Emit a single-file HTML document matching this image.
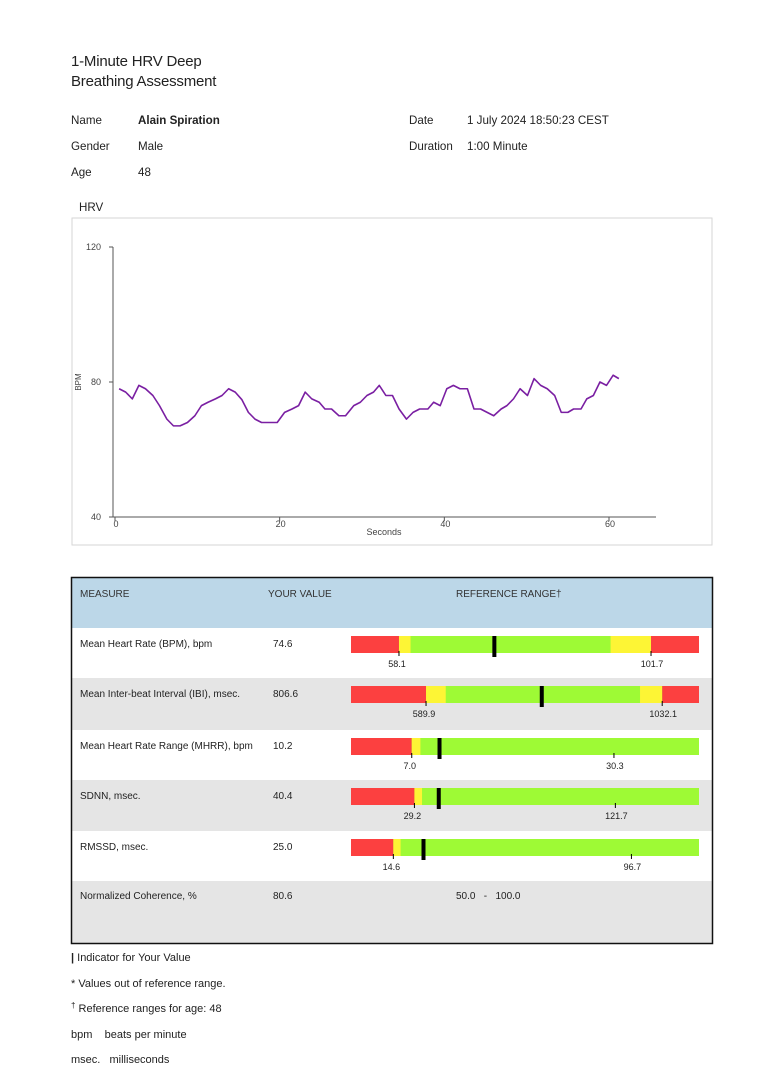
<!DOCTYPE html>
<html><head><meta charset="utf-8">
<style>
body{margin:0;width:768px;height:1087px;background:#fff;font-family:"Liberation Sans",sans-serif;color:#222;position:relative;overflow:hidden}
.t{position:absolute;white-space:nowrap}
.s12{font-size:11.6px}
.s11{font-size:11px}
</style></head><body>
<div class="t" style="left:71px;top:52px;font-size:15px;line-height:20px;letter-spacing:-0.2px">1-Minute HRV Deep<br>Breathing Assessment</div>
<div class="t s12" style="left:71px;top:114px">Name</div>
<div class="t s12" style="left:138px;top:114px;font-weight:bold">Alain Spiration</div>
<div class="t s12" style="left:71px;top:140px">Gender</div>
<div class="t s12" style="left:138px;top:140px">Male</div>
<div class="t s12" style="left:71px;top:166px">Age</div>
<div class="t s12" style="left:138px;top:166px">48</div>
<div class="t s12" style="left:409px;top:114px">Date</div>
<div class="t s12" style="left:467px;top:114px">1 July 2024 18:50:23 CEST</div>
<div class="t s12" style="left:409px;top:140px">Duration</div>
<div class="t s12" style="left:467px;top:140px">1:00 Minute</div>
<div class="t s12" style="left:79px;top:201px">HRV</div>

<svg id="chart" style="position:absolute;left:0;top:0" width="768" height="560" font-family="Liberation Sans, sans-serif">
<rect x="72" y="218" width="640" height="327" fill="#fff" stroke="#d6d6d6"/>
</svg>

<svg id="tbl" style="position:absolute;left:0;top:560px" width="768" height="400" font-family="Liberation Sans, sans-serif"></svg>

<div class="t s11" style="left:71px;top:952px"><b>|</b> Indicator for Your Value</div>
<div class="t s11" style="left:71px;top:978px">* Values out of reference range.</div>
<div class="t s11" style="left:71px;top:1003px"><span style="font-size:8px;position:relative;top:-4px">†</span> Reference ranges for age: 48</div>
<div class="t s11" style="left:71px;top:1029px">bpm&nbsp;&nbsp;&nbsp;&nbsp;beats per minute</div>
<div class="t s11" style="left:71px;top:1054px">msec.&nbsp;&nbsp;&nbsp;milliseconds</div>

<script>
const times=[0.5,1.3,2.1,2.9,3.7,4.6,5.4,6.3,7.1,7.9,8.8,9.7,10.5,11.3,12.2,13,13.8,14.6,15.4,16.2,17,17.8,18.8,19.7,20.6,21.5,22.3,23.1,23.9,24.8,25.5,26.3,27.2,28,29,29.8,30.6,31.4,32.1,32.9,33.7,34.5,35.4,36.2,37,38,38.7,39.5,40.3,41.1,41.9,42.8,43.6,44.4,45.2,46,46.9,47.6,48.4,49.2,50.1,50.9,51.7,52.5,53.4,54.2,55,55.7,56.6,57.3,58.1,58.9,59.7,60.5,61.2];
const bpm=[78,77,75,79,78,76,73,69,67,67,68,70,73,74,75,76,78,77,74.8,71,69,68,68,68,71,72,73,77,75,74,72,72,70,70,73,74,76,77,79,76,76,72,69,71,72,72,74,73,78,79,78,78,72,72,71,70,72,73,75,78,76,81,79,78,76,71,71,72,72,75,76,80,79,82,81];
const xTicks=[0,20,40,60];
const yTicks=[40,80,120];

const measures=["Mean Heart Rate (BPM), bpm","Mean Inter-beat Interval (IBI), msec.","Mean Heart Rate Range (MHRR), bpm","SDNN, msec.","RMSSD, msec.","Normalized Coherence, %"];
const values=[74.6,806.6,10.2,40.4,25.0,80.6];
const refLow=[58.1,589.9,7.0,29.2,14.6];
const refHigh=[101.7,1032.1,30.3,121.7,96.7];
const domMin=[49.8,449.4,0,0,0];
const domMax=[110,1101,40.1,160.2,120];
const yelLowEnd=[60.1,626.8,8.0,32.7,17.1];
const yelHighStart=[94.7,990.6,null,null,null];
const coherenceRange=["50.0","-","100.0"];

const NS="http://www.w3.org/2000/svg";
function mk(p,tag,a){const e=document.createElementNS(NS,tag);for(const k in a)e.setAttribute(k,a[k]);p.appendChild(e);return e;}
const sx=v=>115+v*(609-115)/60;
const sy=v=>517-(v-40)*(517-247)/80;
const c=document.getElementById('chart');
let ax=mk(c,'line',{x1:113,y1:247,x2:113,y2:517,stroke:'#555','stroke-width':1});


let bx=mk(c,'line',{x1:113,y1:517,x2:656,y2:517,stroke:'#555','stroke-width':1});


yTicks.forEach(v=>{
  mk(c,'line',{x1:109,y1:sy(v),x2:113,y2:sy(v),stroke:'#555'});
  const t=mk(c,'text',{x:101,y:sy(v)+3,'font-size':9,fill:'#444','text-anchor':'end'});t.textContent=v;
  
  
});
xTicks.forEach(v=>{
  mk(c,'line',{x1:sx(v),y1:517,x2:sx(v),y2:521,stroke:'#555'});
  const t=mk(c,'text',{x:sx(v)+1,y:527,'font-size':9,fill:'#444','text-anchor':'middle'});t.textContent=v;
  
  
});
let xt=mk(c,'text',{x:384,y:535,'font-size':9,fill:'#444','text-anchor':'middle'});xt.textContent='Seconds';


let yt=mk(c,'text',{x:0,y:0,'font-size':8,fill:'#444','text-anchor':'middle',transform:'translate(81,382) rotate(-90)'});yt.textContent='BPM';


let ln=mk(c,'polyline',{points:times.map((t,i)=>sx(t)+','+sy(bpm[i])).join(' '),fill:'none',stroke:'#7a1fa2','stroke-width':1.6,'stroke-linejoin':'round'});



const T=document.getElementById('tbl');const O=560;
mk(T,'rect',{x:72,y:578-O,width:640,height:50,fill:'#bcd7e8'});
const rowTop=[628,678,730,780,831,881];const rowH=[50,52,50,51,50,62];
rowTop.forEach((y,i)=>mk(T,'rect',{x:72,y:y-O,width:640,height:rowH[i],fill:i%2?'#e5e5e5':'#fff'}));
mk(T,'rect',{x:71.5,y:577.5-O,width:641,height:366,fill:'none',stroke:'#111','stroke-width':1.5});
[['MEASURE',80],['YOUR VALUE',268],['REFERENCE RANGE\u2020',456]].forEach((h,i)=>{
  const t=mk(T,'text',{x:h[1],y:597-O,'font-size':10,fill:'#333'});t.textContent=h[0];
  
  
});
const BX0=351,BX1=699;
measures.forEach((m,i)=>{
  const cy=rowTop[i]+(i==5?14:15)-O;
  const t=mk(T,'text',{x:80,y:cy+4,'font-size':10,fill:'#222'});t.textContent=m;
  
  
  const v=mk(T,'text',{x:273,y:cy+4,'font-size':10,fill:'#222'});v.textContent=values[i].toFixed(1);
  
  
  if(i<5){
    const s=x=>BX0+(x-domMin[i])*(BX1-BX0)/(domMax[i]-domMin[i]);
    const by=rowTop[i]+8-O,bh=17;
    const seg=(a,b,col,name)=>{const r=mk(T,'rect',{x:a,y:by,width:b-a,height:bh,fill:col});};
    seg(BX0,BX1,'#9efa35','range-bar');
    seg(BX0,s(refLow[i]),'#fc4040','low-red-zone');
    seg(s(refLow[i]),s(yelLowEnd[i]),'#fdf535','low-yellow-zone');
    if(yelHighStart[i]!=null){
      seg(s(yelHighStart[i]),s(refHigh[i]),'#fdf535','high-yellow-zone');
      seg(s(refHigh[i]),BX1,'#fc4040','high-red-zone');
    }
    [refLow[i],refHigh[i]].forEach(r=>{
      mk(T,'line',{x1:s(r),y1:by+bh-2,x2:s(r),y2:by+bh+3,stroke:'#000','stroke-width':1});
      const l=mk(T,'text',{x:s(r)+(r==refLow[i]?-2:1),y:by+bh+14,'font-size':9,fill:'#222','text-anchor':'middle'});l.textContent=r.toFixed(1);
      
      
    });
    const mkr=mk(T,'rect',{x:s(values[i])-2,y:by,width:4,height:bh+4,fill:'#000'});
    
    
  } else {
    const r=mk(T,'text',{x:456,y:cy+4,'font-size':10,fill:'#222'});r.textContent=coherenceRange[0]+'   '+coherenceRange[1]+'   '+coherenceRange[2];
    r.setAttribute('xml:space','preserve');r.style.whiteSpace='pre';
    
    
  }
});
</script>
</body></html>
